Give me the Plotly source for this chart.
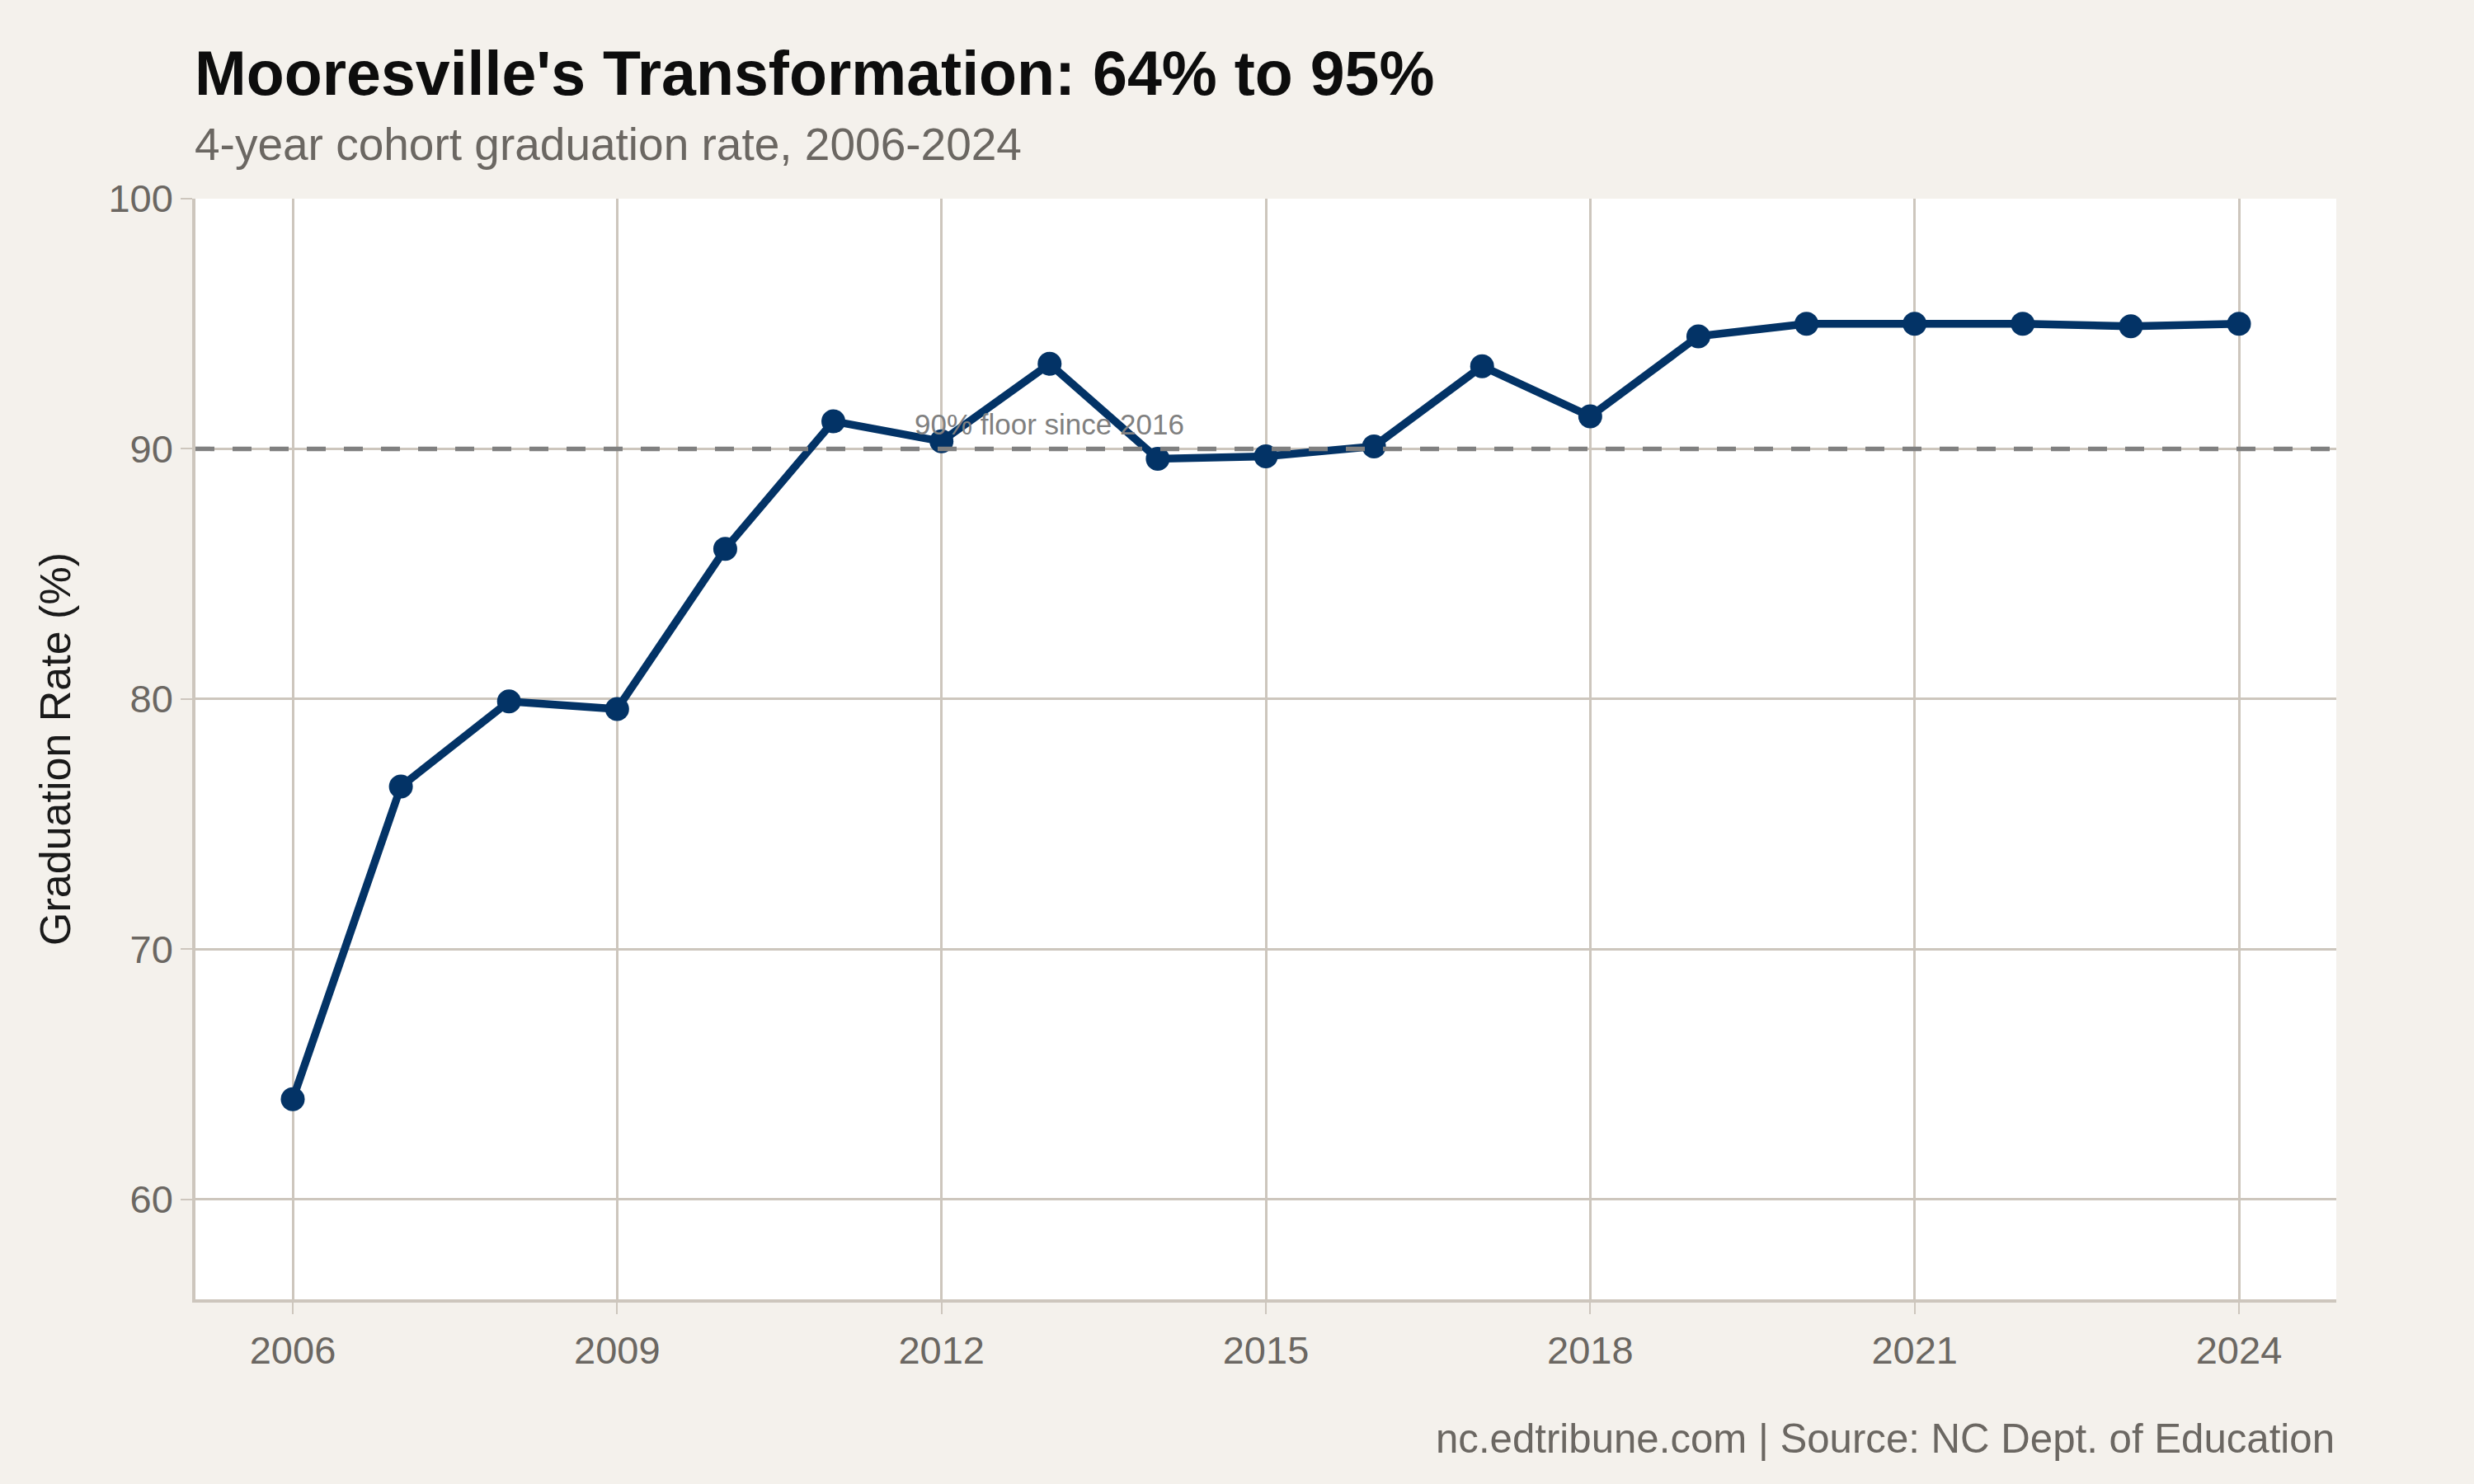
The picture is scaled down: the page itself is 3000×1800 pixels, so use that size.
import plotly.graph_objects as go

years = list(range(2006, 2025))
grad_rate = [64.0, 76.5, 79.9, 79.6, 86.0, 91.1, 90.3, 93.4, 89.6, 89.7,
             90.1, 93.3, 91.3, 94.5, 95.0, 95.0, 95.0, 94.9, 95.0]
x_ticks = [2006, 2009, 2012, 2015, 2018, 2021, 2024]
y_ticks = [60, 70, 80, 90, 100]
floor_value = 90
floor_label = "90% floor since 2016"
floor_label_pos = (2013, 91)

title = "Mooresville's Transformation: 64% to 95%"
subtitle = "4-year cohort graduation rate, 2006-2024"
caption = "nc.edtribune.com | Source: NC Dept. of Education"

FONT = "Liberation Sans, Arial, Helvetica, sans-serif"
NAVY = "#033366"
GRID = "#cdc6bd"
BG = "#f4f1ec"
GRAYTXT = "#6b6762"

fig = go.Figure()

fig.add_trace(go.Scatter(
    x=years, y=grad_rate, mode="lines+markers",
    line=dict(color=NAVY, width=9.5),
    marker=dict(color=NAVY, size=29),
    showlegend=False, hoverinfo="x+y",
))

fig.add_hline(y=floor_value, line=dict(color="#808080", width=5.5, dash="23px,22px"),
              layer="above")

fig.add_annotation(x=floor_label_pos[0], y=floor_label_pos[1], text=floor_label,
                   showarrow=False, font=dict(family=FONT, size=35, color="#808080"),
                   xanchor="center", yanchor="middle")

# Title / subtitle / caption
fig.add_annotation(xref="paper", yref="paper", x=-0.001, y=1.114, text=f"<b>{title}</b>",
                   showarrow=False, xanchor="left", yanchor="middle",
                   font=dict(family=FONT, size=75.3, color="#0d0d0d"))
fig.add_annotation(xref="paper", yref="paper", x=-0.001, y=1.0495, text=subtitle,
                   showarrow=False, xanchor="left", yanchor="middle",
                   font=dict(family=FONT, size=55, color=GRAYTXT))
fig.add_annotation(xref="paper", yref="paper", x=1.0, y=-0.126, text=caption,
                   showarrow=False, xanchor="right", yanchor="middle",
                   font=dict(family=FONT, size=49.2, color=GRAYTXT))

fig.update_layout(
    width=3000, height=1800,
    paper_bgcolor=BG, plot_bgcolor="white",
    margin=dict(l=237, r=167, t=241, b=224, autoexpand=False),
    font=dict(family=FONT),
)

fig.update_xaxes(
    range=[2005.1, 2024.9], tickvals=x_ticks, ticktext=[str(t) for t in x_ticks],
    showgrid=True, gridcolor=GRID, gridwidth=2.5,
    showline=True, linecolor=GRID, linewidth=3.5,
    ticks="outside", ticklen=14, tickwidth=2, tickcolor=GRID,
    tickfont=dict(family=FONT, size=47, color=GRAYTXT),
    ticklabelstandoff=4,
    zeroline=False,
)
fig.update_yaxes(
    range=[56, 100], tickvals=y_ticks, ticktext=[str(t) for t in y_ticks],
    showgrid=True, gridcolor=GRID, gridwidth=2.5,
    showline=True, linecolor=GRID, linewidth=3.5,
    ticks="outside", ticklen=14, tickwidth=2, tickcolor=GRID,
    tickfont=dict(family=FONT, size=47, color=GRAYTXT),
    zeroline=False,
    title=dict(text="Graduation Rate (%)", font=dict(family=FONT, size=52, color="#1a1a1a"),
               standoff=30),
)

fig.write_html("out.html")
